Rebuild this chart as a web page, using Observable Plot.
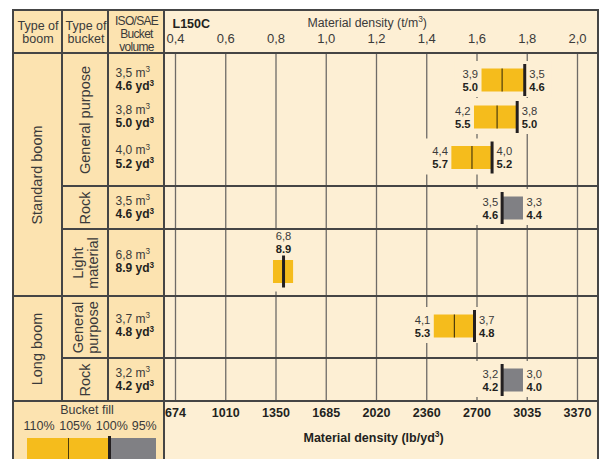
<!DOCTYPE html>
<html>
<head>
<meta charset="utf-8">
<script src="https://cdn.jsdelivr.net/npm/d3@7"></script>
<script src="https://cdn.jsdelivr.net/npm/@observablehq/plot@0.6"></script>
<style>
html, body { margin: 0; padding: 0; background: #fff; }
#chart { position: relative; width: 605px; height: 459px; overflow: hidden; font-family: "Liberation Sans", Arial, sans-serif; }
.abs { position: absolute; }
</style>
</head>
<body>
<div id="chart"></div>
<script>
// ---------------- DATA ----------------
const boomType   = ["Standard boom", "Standard boom", "Standard boom", "Standard boom", "Standard boom", "Long boom", "Long boom"];
const bucketType = ["General purpose", "General purpose", "General purpose", "Rock", "Light material", "General purpose", "Rock"];
const volM3      = ["3,5", "3,8", "4,0", "3,5", "6,8", "3,7", "3,2"];
const volYd3     = ["4.6", "5.0", "5.2", "4.6", "8.9", "4.8", "4.2"];
const fill110M3  = ["3,9", "4,2", "4,4", null, null, "4,1", null];
const fill110Yd3 = ["5.0", "5.5", "5.7", null, null, "5.3", null];
const fill95M3   = [null, null, null, "3,3", null, null, "3,0"];
const fill95Yd3  = [null, null, null, "4.4", null, null, "4.0"];
// material density (t/m3) at bucket fill factor 110 / 105 / 100 / 95 %
const dens110 = [1.62, 1.59, 1.50, null, null, 1.43, null];
const dens105 = [1.70, 1.68, 1.58, null, 0.79, 1.51, null];
const dens100 = [1.79, 1.76, 1.66, 1.70, 0.83, 1.59, 1.70];
const dens95  = [null, null, null, 1.785, 0.87, null, 1.785];
const densTicks      = [0.4, 0.6, 0.8, 1.0, 1.2, 1.4, 1.6, 1.8, 2.0];
const densTickLabels = ["0,4", "0,6", "0,8", "1,0", "1,2", "1,4", "1,6", "1,8", "2,0"];
const lbTickLabels   = ["674", "1010", "1350", "1685", "2020", "2360", "2700", "3035", "3370"];
const fillLabels     = ["110%", "105%", "100%", "95%"];

// ---------------- LAYOUT (pixels) ----------------
const LY = {width: 605, height: 459, left: 13, col1: 62, col2: 108, col3: 164, right: 598, top: 10, head: 53, foot: 401};
const rowMid = [27, 64, 104.5, 155, 209, 273, 327];      // row centres below header
const bucketEdges = [0, 133, 176, 243, 305, 348];        // cell edges below header
const keyCentres = [38.5, 74.7, 111.3, 143.7];           // fill-key label centres
const C = {cellBg: "#fce3b0", plotBg: "#fdefd4", border: "#454545", grid: "#6e6b67",
           yellow: "#f5bc1c", grey: "#808084", ink: "#231f20", text: "#3a3a3a", thin: "#4d3c0c"};

const chart = document.getElementById("chart");
function box(x, y, w, h, bg) {
  const d = document.createElement("div");
  d.className = "abs";
  Object.assign(d.style, {left: x + "px", top: y + "px", width: w + "px", height: h + "px", background: bg});
  chart.appendChild(d);
  return d;
}
// backgrounds
box(LY.left, LY.top, LY.col3 - LY.left, LY.height - LY.top, C.cellBg);
box(LY.col3, LY.top, LY.right - LY.col3, LY.height - LY.top, C.plotBg);

// ---------------- derived rows ----------------
const rows = boomType.map((boom, i) => {
  const light = bucketType[i] === "Light material";
  const mid = rowMid[i];
  return {
    boom, bucket: bucketType[i], light, mid,
    barC: light ? mid + 9.5 : mid,
    m3: volM3[i], yd3: volYd3[i],
    d110: dens110[i], d105: dens105[i], d100: dens100[i], d95: dens95[i],
    start: dens110[i] ?? dens105[i] ?? dens100[i],
    end: dens95[i] ?? dens100[i],
    leftM3: fill110M3[i] ?? volM3[i], leftYd3: fill110Yd3[i] ?? volYd3[i],
    rightM3: fill95M3[i] ?? volM3[i], rightYd3: fill95Yd3[i] ?? volYd3[i]
  };
});
const normal = rows.filter(r => !r.light);
const lightRows = rows.filter(r => r.light);
const gp = normal.filter(r => r.d110 != null);
const rock = normal.filter(r => r.d110 == null);

const yellowSegs = [], greySegs = [];
rows.forEach(r => {
  const over = r.d110 ?? r.d105;
  if (over != null) yellowSegs.push({x1: over, x2: r.d100, y: r.barC});
  if (r.d95 != null) (r.light ? yellowSegs : greySegs).push({x1: r.d100, x2: r.d95, y: r.barC});
});

// sections (bucket cells and boom cells)
const sections = [];
rows.forEach(r => {
  const last = sections[sections.length - 1];
  if (last && last.boom === r.boom && last.bucket === r.bucket) last.n++;
  else sections.push({boom: r.boom, bucket: r.bucket, n: 1});
});
sections.forEach((s, k) => {
  s.y1 = bucketEdges[k]; s.y2 = bucketEdges[k + 1];
  s.label = (s.y2 - s.y1) < 110 ? s.bucket.replace(" ", "\n") : s.bucket;
});
const boomSections = [];
sections.forEach(s => {
  const last = boomSections[boomSections.length - 1];
  if (last && last.boom === s.boom) last.y2 = s.y2;
  else boomSections.push({boom: s.boom, y1: s.y1, y2: s.y2});
});

const fs = 11.2;
const up = -6.2, down = 6.5;   // two-line bar labels
const ML = LY.col3 + 1;
const svg = Plot.plot({
  width: LY.width, height: LY.height,
  marginTop: LY.head, marginBottom: LY.height - LY.foot,
  marginLeft: ML, marginRight: LY.width - LY.right,
  x: {domain: [0.3602, 2.0836], axis: null},
  y: {domain: [0, LY.foot - LY.head], range: [LY.head, LY.foot], axis: null},
  marks: [
    Plot.ruleX(densTicks, {stroke: C.grid, strokeWidth: 1.3}),
    Plot.rect(normal, {x1: "start", x2: "end", y1: r => r.barC - 19, y2: r => r.barC + 17, insetLeft: -27, insetRight: -27, fill: C.plotBg}),
    Plot.rect(lightRows, {x1: "start", x2: "end", y1: r => r.barC - 42, y2: r => r.barC + 20, insetLeft: -4, insetRight: -4, fill: C.plotBg}),
    Plot.rect(yellowSegs, {x1: "x1", x2: "x2", y1: d => d.y - 11.5, y2: d => d.y + 11.5, fill: C.yellow}),
    Plot.rect(greySegs, {x1: "x1", x2: "x2", y1: d => d.y - 11.5, y2: d => d.y + 11.5, fill: C.grey}),
    Plot.ruleX(gp, {x: "d105", y1: r => r.barC - 11.5, y2: r => r.barC + 11.5, stroke: C.thin, strokeWidth: 1.2}),
    Plot.ruleX(rows, {x: "d100", y1: r => r.barC - 16, y2: r => r.barC + 16, stroke: C.ink, strokeWidth: 3}),
    // bar labels
    Plot.text(normal, {x: "start", y: r => r.barC + up, text: "leftM3", textAnchor: "end", dx: -4, fontSize: fs, fill: C.text}),
    Plot.text(normal, {x: "start", y: r => r.barC + down, text: "leftYd3", textAnchor: "end", dx: -4, fontSize: fs, fontWeight: "bold", fill: C.ink}),
    Plot.text(gp, {x: "end", y: r => r.barC + up, text: "rightM3", textAnchor: "start", dx: 4.5, fontSize: fs, fill: C.text}),
    Plot.text(gp, {x: "end", y: r => r.barC + down, text: "rightYd3", textAnchor: "start", dx: 4.5, fontSize: fs, fontWeight: "bold", fill: C.ink}),
    Plot.text(rock, {x: "end", y: r => r.barC + up, text: "rightM3", textAnchor: "start", dx: 3, fontSize: fs, fill: C.text}),
    Plot.text(rock, {x: "end", y: r => r.barC + down, text: "rightYd3", textAnchor: "start", dx: 3, fontSize: fs, fontWeight: "bold", fill: C.ink}),
    Plot.text(lightRows, {x: "d100", y: r => r.barC - 35.5, text: "m3", fontSize: fs, fill: C.text}),
    Plot.text(lightRows, {x: "d100", y: r => r.barC - 22.5, text: "yd3", fontSize: fs, fontWeight: "bold", fill: C.ink}),
    // top axis (t/m3) and bottom axis (lb/yd3)
    Plot.text(densTicks, {x: d => d, frameAnchor: "top", lineAnchor: "middle", dy: -14.5, text: (d, i) => densTickLabels[i], fontSize: 13, fill: C.text}),
    Plot.text(densTicks, {x: d => d, frameAnchor: "bottom", lineAnchor: "middle", dy: 11.7, text: (d, i) => lbTickLabels[i], fontSize: 12.5, fontWeight: "bold", fill: C.ink}),
    Plot.text(["L150C"], {frameAnchor: "top-left", lineAnchor: "middle", textAnchor: "start", dx: 7, dy: -30, text: d => d, fontSize: 12.5, fontWeight: "bold", fill: C.ink}),
    Plot.text(["Material density (t/m³)"], {frameAnchor: "top-left", lineAnchor: "middle", textAnchor: "start", dx: 142, dy: -30.8, text: d => d, fontSize: 12.3, fill: C.text}),
    Plot.text(["Material density (lb/yd³)"], {frameAnchor: "bottom-left", lineAnchor: "middle", textAnchor: "start", dx: 138, dy: 36.7, text: d => d, fontSize: 12.5, fontWeight: "bold", fill: C.ink}),
    // table header
    Plot.text(["Type of\nboom"], {frameAnchor: "top-left", lineAnchor: "middle", textAnchor: "middle", dx: -127.5, dy: -21, text: d => d, fontSize: 12.5, lineHeight: 1.0, fill: C.text}),
    Plot.text(["Type of\nbucket"], {frameAnchor: "top-left", lineAnchor: "middle", textAnchor: "middle", dx: -79.5, dy: -21, text: d => d, fontSize: 12.5, lineHeight: 1.0, fill: C.text}),
    Plot.text(["ISO/SAE\nBucket\nvolume"], {frameAnchor: "top-left", lineAnchor: "middle", textAnchor: "middle", dx: -29, dy: -19.6, text: d => d, fontSize: 12, lineHeight: 1.1, fill: C.text}),
    // table body
    Plot.text(boomSections, {y: s => (s.y1 + s.y2) / 2, frameAnchor: "left", dx: -128, rotate: -90, textAnchor: "middle", text: "boom", fontSize: 14.5, fill: C.text}),
    Plot.text(sections, {y: s => (s.y1 + s.y2) / 2, frameAnchor: "left", dx: -80, rotate: -90, textAnchor: "middle", text: "label", fontSize: 14.5, lineHeight: 1.03, fill: C.text}),
    Plot.text(rows, {y: r => r.mid - 7.5, frameAnchor: "left", dx: -50, textAnchor: "start", text: r => r.m3 + " m³", fontSize: 12, fill: C.text}),
    Plot.text(rows, {y: r => r.mid + 6, frameAnchor: "left", dx: -50, textAnchor: "start", text: r => r.yd3 + " yd³", fontSize: 12, fontWeight: "bold", fill: C.ink}),
    // bucket fill key labels
    Plot.text(["Bucket fill"], {frameAnchor: "bottom-left", lineAnchor: "middle", textAnchor: "middle", dx: -78.5, dy: 8.7, text: d => d, fontSize: 12.5, fill: C.text}),
    ...fillLabels.map((l, i) => Plot.text([l], {frameAnchor: "bottom-left", lineAnchor: "middle", textAnchor: "middle", dx: keyCentres[i] - ML, dy: 24, text: d => d, fontSize: 12.5, fill: C.text}))
  ]
});
svg.style.position = "absolute";
svg.style.left = "0px";
svg.style.top = "0px";
svg.style.background = "transparent";
svg.style.fontFamily = '"Liberation Sans", Arial, sans-serif';
chart.appendChild(svg);

// condensed header text
d3.select(svg).selectAll("text").filter(function () { return this.textContent.startsWith("ISO"); })
  .attr("letter-spacing", "-0.7");
// true superscript for the cube sign
const NS = "http://www.w3.org/2000/svg";
d3.select(svg).selectAll("text").each(function () {
  if (this.querySelector("tspan")) return;
  const s = this.textContent, k = s.indexOf("³");
  if (k < 0) return;
  const f = parseFloat(getComputedStyle(this).fontSize) || 12;
  this.textContent = "";
  this.appendChild(document.createTextNode(s.slice(0, k)));
  const sup = document.createElementNS(NS, "tspan");
  sup.setAttribute("font-size", (f * 0.68).toFixed(2));
  sup.setAttribute("dy", (-f * 0.38).toFixed(2));
  sup.textContent = "3";
  this.appendChild(sup);
  const rest = s.slice(k + 1);
  if (rest) {
    const t = document.createElementNS(NS, "tspan");
    t.setAttribute("dy", (f * 0.38).toFixed(2));
    t.textContent = rest;
    this.appendChild(t);
  }
});

// table borders (on top)
const B = C.border;
box(LY.left - 1, LY.top - 1, LY.right - LY.left + 2, 2, B);
box(LY.left - 1, LY.top - 1, 2, LY.height, B);
box(LY.right - 1, LY.top - 1, 2, LY.height, B);
box(LY.col3 - 1, LY.top - 1, 2, LY.height, B);
box(LY.col1 - 0.75, LY.top - 1, 1.5, LY.foot - LY.top + 1, B);
box(LY.col2 - 0.75, LY.top - 1, 1.5, LY.foot - LY.top + 1, B);
box(LY.left - 1, LY.head - 1, LY.right - LY.left + 2, 2, B);
box(LY.left - 1, LY.foot - 1, LY.right - LY.left + 2, 2, B);
sections.forEach((s, k) => {
  if (k === 0) return;
  const boomChange = sections[k - 1].boom !== s.boom;
  const x0 = boomChange ? LY.left - 1 : LY.col1 - 1;
  box(x0, LY.head + s.y1 - 1, LY.right - x0 + 1, boomChange ? 2 : 1.6, B);
});

// bucket fill key
box(27, 438, 82, 30, C.yellow);
box(109, 438, 47, 30, C.grey);
box(67.6, 438, 1.3, 30, C.thin);
box(107.5, 436, 3, 30, C.ink);
</script>
</body>
</html>
